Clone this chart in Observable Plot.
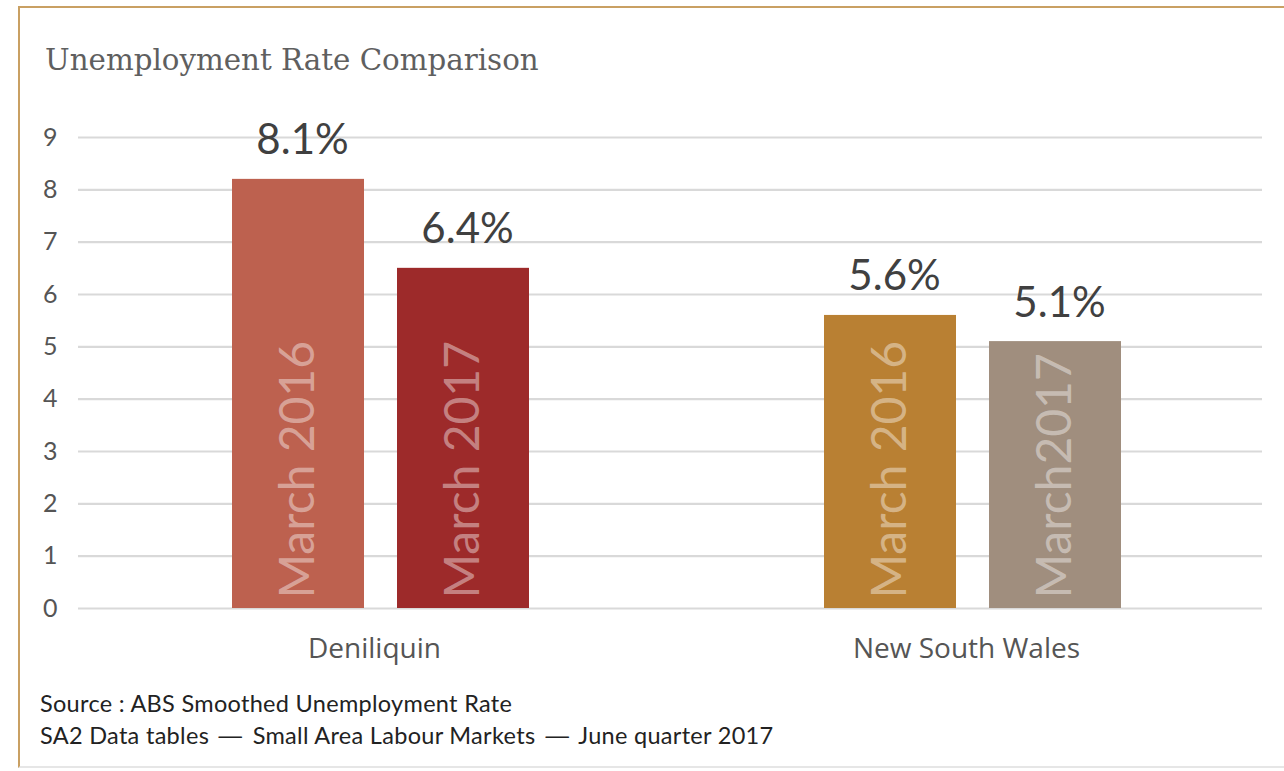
<!DOCTYPE html>
<html>
<head>
<meta charset="utf-8">
<script src="https://cdn.jsdelivr.net/npm/d3@7"></script>
<script src="https://cdn.jsdelivr.net/npm/@observablehq/plot@0.6"></script>
<style>
  html, body { margin: 0; padding: 0; background: #fff; }
  #page { position: relative; width: 1284px; height: 771px; overflow: hidden; }
  #frame { position: absolute; left: 18px; top: 6px; width: 1280px; height: 762px;
           border-top: 2px solid #C9A063; border-left: 2px solid #C9A063; border-bottom: 2px solid #e6e6e6; box-sizing: border-box; }
  #title { position: absolute; left: 45px; top: 43px; font-family: "DejaVu Serif", serif; font-size: 29.3px; line-height: 34px; color: #5f5f5f; white-space: nowrap; }
  #chart { position: absolute; left: 0; top: 100px; }
  #caption { position: absolute; left: 40px; top: 687px; font-family: "Lato", sans-serif; font-size: 23.5px; letter-spacing: 0.3px; line-height: 32px; color: #222; white-space: nowrap; }
  .dash { display: inline-block; transform: scaleX(1.5); margin: 0 6px; }
</style>
</head>
<body>
<div id="page">
  <div id="frame"></div>
  <div id="title">Unemployment Rate Comparison</div>
  <div id="chart"></div>
  <div id="caption">
    <div>Source : ABS Smoothed Unemployment Rate</div>
    <div>SA2 Data tables <span class="dash">—</span> Small Area Labour Markets <span class="dash">—</span> June quarter 2017</div>
  </div>
</div>
<script>
const regions = ["Deniliquin", "New South Wales"];
const periods = ["March 2016", "March 2017"];
const barLabels = [["March 2016", "March 2017"], ["March 2016", "March2017"]];
const values = [[8.2, 6.5], [5.6, 5.1]];
const valueLabels = [["8.1%", "6.4%"], ["5.6%", "5.1%"]];
const colors = [["#BD614F", "#9D2A2A"], ["#B98033", "#A08E7E"]];
const yTicks = [0, 1, 2, 3, 4, 5, 6, 7, 8, 9];

const data = [];
regions.forEach((r, i) => periods.forEach((p, j) => data.push({
  region: r, period: p, value: values[i][j], label: valueLabels[i][j],
  barLabel: barLabels[i][j], color: colors[i][j]
})));

const chart = Plot.plot({
  width: 1284,
  height: 580,
  marginLeft: 77,
  marginRight: 22,
  marginTop: 37,
  marginBottom: 72,
  style: { fontFamily: "Lato, sans-serif", background: "transparent" },
  fx: { domain: regions, padding: 0, label: null, axis: null },
  x: { domain: periods, paddingInner: 0.2, paddingOuter: 0, insetLeft: 153, insetRight: 141, axis: null },
  y: { domain: [0, 9], axis: null },
  color: { type: "identity" },
  marks: [
    Plot.ruleY(yTicks, { stroke: "#D9D9D9", strokeWidth: 2.2 }),
    Plot.axisY({ ticks: yTicks, tickSize: 0, tickPadding: 21, fontSize: 25, fill: "#555", label: null, fontFamily: "Lato, sans-serif" }),
    Plot.axisFx({ domain: regions, anchor: "bottom", tickSize: 0, tickPadding: 30, fontSize: 28, fill: "#555", label: null, fontFamily: "Open Sans, sans-serif" }),
    Plot.barY(data, { fx: "region", x: "period", y: "value", fill: "color" }),
    Plot.text(data, { fx: "region", x: "period", y: "value", text: "label", dy: -25, dx: 4, lineAnchor: "bottom", fontSize: 42, letterSpacing: 1.5, fill: "#404040" }),
    Plot.text(data, { fx: "region", x: "period", frameAnchor: "bottom", text: "barLabel", rotate: -90, textAnchor: "start", lineAnchor: "middle", dy: -10, fontSize: 48, fill: "white", fillOpacity: 0.42 })
  ]
});
document.getElementById("chart").appendChild(chart);
</script>
</body>
</html>
